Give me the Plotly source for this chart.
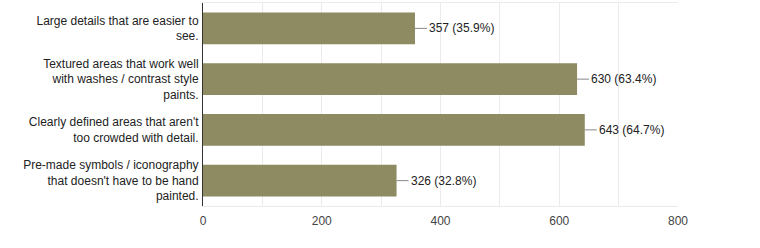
import plotly.graph_objects as go

categories = [
    "Large details that are easier to<br>see.",
    "Textured areas that work well<br>with washes / contrast style<br>paints.",
    "Clearly defined areas that aren't<br>too crowded with detail.",
    "Pre-made symbols / iconography<br>that doesn't have to be hand<br>painted.",
]
counts = [357, 630, 643, 326]
percents = ["35.9%", "63.4%", "64.7%", "32.8%"]

fig = go.Figure(go.Bar(
    x=counts, y=categories, orientation="h",
    marker=dict(color="#8e8a62", line=dict(width=0)),
    width=0.63, hoverinfo="skip",
))

for c, cat, p in zip(counts, categories, percents):
    fig.add_annotation(
        x=c, y=cat, xref="x", yref="y",
        text=f"{c} ({p})", showarrow=True, arrowhead=0, arrowwidth=1,
        arrowcolor="#888888", ax=12, ay=0, xanchor="left", standoff=0,
        font=dict(family="Liberation Sans, Arial", size=12, color="#222222"),
    )

fig.update_layout(
    width=760, height=248,
    margin=dict(l=203, r=82, t=3, b=42),
    paper_bgcolor="white", plot_bgcolor="white",
    font=dict(family="Liberation Sans, Arial", size=12, color="#222222"),
    showlegend=False,
    xaxis=dict(
        range=[0, 800], dtick=200, tick0=0, showgrid=True, gridcolor="#ebebeb",
        minor=dict(dtick=100, showgrid=True, gridcolor="#ebebeb"),
        zeroline=False, showline=True, linecolor="#ebebeb", mirror=True,
        ticks="", ticklabelstandoff=4, tickfont=dict(size=12, color="#444444"),
        fixedrange=True,
    ),
    yaxis=dict(
        autorange="reversed", showgrid=False, zeroline=False,
        showline=True, linecolor="#333333", linewidth=1,
        ticks="", ticklabelstandoff=1, tickfont=dict(size=12, color="#222222"),
    ),
)

fig.write_html("out.html")
